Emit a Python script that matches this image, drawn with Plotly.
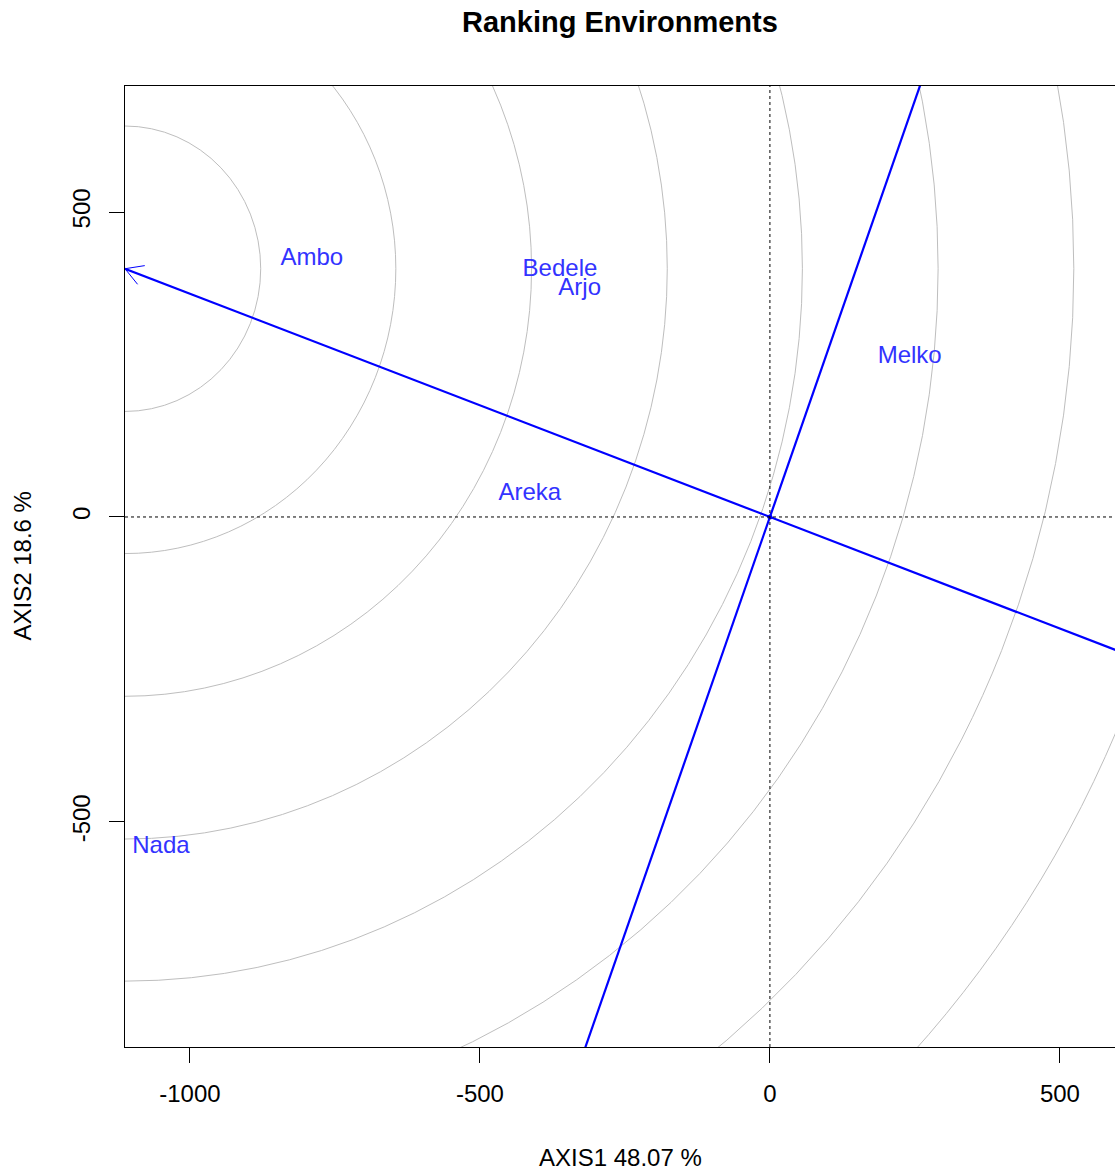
import numpy as np
import plotly.graph_objects as go

# ---- data ----
env_names = ["Ambo", "Bedele", "Arjo", "Melko", "Areka", "Nada"]
env_x = [-790, -362, -328, 241, -414, -1050]
env_y = [423, 405, 374, 262, 38, -541]

# average-environment (AEC) point, at the left edge of the plot
aec_x = -1112
aec_y = 407
# concentric circle radii (in x-axis units) around the AEC point
circle_radii = [234, 467, 701, 935, 1168, 1402, 1636, 1870]

x_ticks = [-1000, -500, 0, 500]
y_ticks = [-500, 0, 500]

title_text = "Ranking Environments"
x_title = "AXIS1 48.07 %"
y_title = "AXIS2 18.6 %"

# ---- layout geometry ----
W, H = 1115, 1170
ml, mr, mt, mb = 125, 0, 86, 123
x_range = [-1112, 595]
y_range = [-869, 706.6]

FONT = "Liberation Sans, Arial, sans-serif"
BLUE = "#0000FF"
LABEL_BLUE = "#3333FF"
GRAY = "#BEBEBE"

fig = go.Figure()

# circles
shapes = []
for r in circle_radii:
    shapes.append(dict(type="circle", xref="x", yref="y",
                       x0=aec_x - r, x1=aec_x + r, y0=aec_y - r, y1=aec_y + r,
                       line=dict(color=GRAY, width=1), layer="below"))

# dotted axes through origin
shapes.append(dict(type="line", xref="x", yref="paper", x0=0, x1=0, y0=0, y1=1,
                   line=dict(color="black", width=1, dash="dot")))
shapes.append(dict(type="line", xref="paper", yref="y", x0=0, x1=1, y0=0, y1=0,
                   line=dict(color="black", width=1, dash="dot")))

# AEC abscissa line (through AEC point and origin, extended)
fig.add_trace(go.Scatter(x=[aec_x, -3 * aec_x], y=[aec_y, -3 * aec_y], mode="lines",
                         line=dict(color=BLUE, width=2.2), hoverinfo="skip", showlegend=False))
# AEC ordinate (perpendicular through origin)
fig.add_trace(go.Scatter(x=[-3 * aec_y, 3 * aec_y], y=[3 * aec_x, -3 * aec_x], mode="lines",
                         line=dict(color=BLUE, width=2.2), hoverinfo="skip", showlegend=False))

# arrow head at AEC point (computed in pixel space)
pw = W - ml - mr
ph = H - mt - mb
sx = pw / (x_range[1] - x_range[0])
sy = ph / (y_range[1] - y_range[0])
dxp = (0 - aec_x) * sx
dyp = (0 - aec_y) * sy
n = np.hypot(dxp, dyp)
ux, uy = dxp / n, dyp / n
L = 20
ang = np.deg2rad(30)
bx, by = [], []
for s in (1, -1):
    rx = ux * np.cos(s * ang) - uy * np.sin(s * ang)
    ry = ux * np.sin(s * ang) + uy * np.cos(s * ang)
    bx += [aec_x + rx * L / sx, aec_x, None]
    by += [aec_y + ry * L / sy, aec_y, None]
fig.add_trace(go.Scatter(x=bx, y=by, mode="lines", line=dict(color=BLUE, width=1),
                         hoverinfo="skip", showlegend=False, cliponaxis=False))

# origin point
fig.add_trace(go.Scatter(x=[0], y=[0], mode="markers",
                         marker=dict(color=BLUE, size=5), hoverinfo="skip", showlegend=False))

# environment labels
fig.add_trace(go.Scatter(x=env_x, y=env_y, mode="text", text=env_names,
                         textposition="middle center",
                         textfont=dict(family=FONT, size=24, color=LABEL_BLUE),
                         hoverinfo="skip", showlegend=False))

annotations = [
    dict(text="<b>" + title_text + "</b>", xref="paper", yref="paper", x=0.5, y=1,
         xanchor="center", yanchor="middle", yshift=64, showarrow=False,
         font=dict(family=FONT, size=29, color="black")),
    dict(text=x_title, xref="paper", yref="paper", x=0.5, y=0,
         xanchor="center", yanchor="middle", yshift=-110, showarrow=False,
         font=dict(family=FONT, size=24, color="black")),
    dict(text=y_title, xref="paper", yref="paper", x=0, y=0.5, textangle=-90,
         xanchor="center", yanchor="middle", xshift=-103, showarrow=False,
         font=dict(family=FONT, size=24, color="black")),
]

fig.update_layout(
    width=W, height=H,
    margin=dict(l=ml, r=mr, t=mt, b=mb, pad=0),
    paper_bgcolor="white", plot_bgcolor="white",
    shapes=shapes, annotations=annotations,
    showlegend=False,
    xaxis=dict(range=x_range, tickvals=x_ticks, ticktext=[str(v) for v in x_ticks],
               showgrid=False, zeroline=False, showline=True, linecolor="black",
               linewidth=1, mirror=True, ticks="outside", ticklen=15, tickcolor="black",
               tickfont=dict(family=FONT, size=24, color="black"), ticklabelstandoff=10),
    yaxis=dict(range=y_range, tickvals=y_ticks, ticktext=[str(v) for v in y_ticks],
               showgrid=False, zeroline=False, showline=True, linecolor="black",
               linewidth=1, mirror=False, ticks="outside", ticklen=15, tickcolor="black",
               tickangle=-90,
               tickfont=dict(family=FONT, size=24, color="black"), ticklabelstandoff=9),
)

fig.write_html("out.html", config={"displayModeBar": False},
               post_script="document.body.style.margin='0px';document.body.style.overflow='hidden';")
